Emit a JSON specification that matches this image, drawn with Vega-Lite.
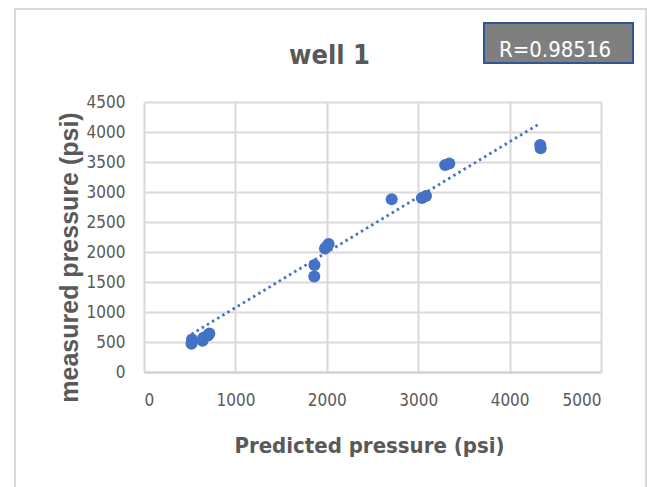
{
  "$schema": "https://vega.github.io/schema/vega-lite/v6.json",
  "width": 457,
  "height": 270,
  "autosize": {"type": "none"},
  "padding": {"left": 144, "top": 102, "right": 46, "bottom": 115},
  "background": "white",
  "title": {
    "text": "well 1",
    "anchor": "middle",
    "frame": "group",
    "dx": -43,
    "offset": -83,
    "baseline": "alphabetic",
    "font": "DejaVu Sans Condensed",
    "fontSize": 27,
    "fontWeight": "bold",
    "color": "#595959"
  },
  "config": {
    "view": {"stroke": null},
    "axis": {
      "labelFont": "DejaVu Sans Condensed",
      "labelFontSize": 17,
      "labelColor": "#595959",
      "titleColor": "#595959",
      "gridColor": "#d9d9d9",
      "gridWidth": 2,
      "grid": true,
      "ticks": false,
      "format": "d",
      "labelOverlap": false
    },
    "axisX": {
      "tickCount": 5,
      "titleFont": "DejaVu Sans Condensed",
      "titleFontSize": 22,
      "titleFontWeight": "bold",
      "titleX": 225,
      "titleY": 80,
      "titleBaseline": "alphabetic",
      "labelPadding": 20,
      "domain": true,
      "domainColor": "#d0d0d0",
      "domainWidth": 2
    },
    "axisY": {
      "tickCount": 9,
      "titleFont": "Liberation Sans",
      "titleFontSize": 25,
      "titleFontWeight": "bold",
      "titleX": -67,
      "titleY": 155,
      "titleBaseline": "alphabetic",
      "labelPadding": 19,
      "domain": false
    }
  },
  "datasets": {
    "points": [
      {"pred": 520, "meas": 470},
      {"pred": 525, "meas": 540},
      {"pred": 640, "meas": 520},
      {"pred": 650, "meas": 570},
      {"pred": 700, "meas": 610},
      {"pred": 715, "meas": 640},
      {"pred": 1863, "meas": 1590},
      {"pred": 1865, "meas": 1785},
      {"pred": 1980, "meas": 2060},
      {"pred": 2000, "meas": 2090},
      {"pred": 2020, "meas": 2135},
      {"pred": 2710, "meas": 2880},
      {"pred": 3040, "meas": 2900},
      {"pred": 3085, "meas": 2935},
      {"pred": 3295, "meas": 3450},
      {"pred": 3340, "meas": 3475},
      {"pred": 4335, "meas": 3785},
      {"pred": 4340, "meas": 3730}
    ],
    "trend": [
      {"pred": 520, "meas": 630},
      {"pred": 4340, "meas": 4150}
    ],
    "note": [{"label": "R=0.98516"}]
  },
  "layer": [
    {
      "data": {"name": "trend"},
      "mark": {"type": "line", "color": "#4472C4", "strokeWidth": 2.8, "strokeDash": [2.5, 3.5]},
      "encoding": {
        "x": {
          "field": "pred", "type": "quantitative",
          "scale": {"domain": [0, 5000], "nice": false},
          "title": "Predicted pressure (psi)"
        },
        "y": {
          "field": "meas", "type": "quantitative",
          "scale": {"domain": [0, 4500], "nice": false},
          "title": "measured pressure (psi)"
        }
      }
    },
    {
      "data": {"name": "points"},
      "mark": {"type": "circle", "color": "#4472C4", "opacity": 1, "size": 145},
      "encoding": {
        "x": {"field": "pred", "type": "quantitative", "title": "Predicted pressure (psi)"},
        "y": {"field": "meas", "type": "quantitative", "title": "measured pressure (psi)"}
      }
    },
    {
      "data": {"name": "note"},
      "mark": {"type": "rect", "fill": null, "stroke": "#d9d9d9", "strokeWidth": 2, "clip": false},
      "encoding": {
        "x": {"datum": -1411, "type": "quantitative", "title": "Predicted pressure (psi)"},
        "x2": {"datum": 5492},
        "y": {"datum": 6050, "type": "quantitative", "title": "measured pressure (psi)"},
        "y2": {"datum": -3000}
      }
    },
    {
      "data": {"name": "note"},
      "mark": {"type": "rect", "fill": "#7f7f7f", "stroke": "#2f5597", "strokeWidth": 2, "clip": false},
      "encoding": {
        "x": {"datum": 3720, "type": "quantitative", "title": "Predicted pressure (psi)"},
        "x2": {"datum": 5350},
        "y": {"datum": 5817, "type": "quantitative", "title": "measured pressure (psi)"},
        "y2": {"datum": 5150}
      }
    },
    {
      "data": {"name": "note"},
      "mark": {"type": "text", "color": "white", "font": "DejaVu Sans Condensed", "fontSize": 22, "align": "center", "baseline": "alphabetic", "clip": false},
      "encoding": {
        "text": {"field": "label"},
        "x": {"datum": 4497, "type": "quantitative", "title": "Predicted pressure (psi)"},
        "y": {"datum": 5250, "type": "quantitative", "title": "measured pressure (psi)"}
      }
    }
  ]
}
